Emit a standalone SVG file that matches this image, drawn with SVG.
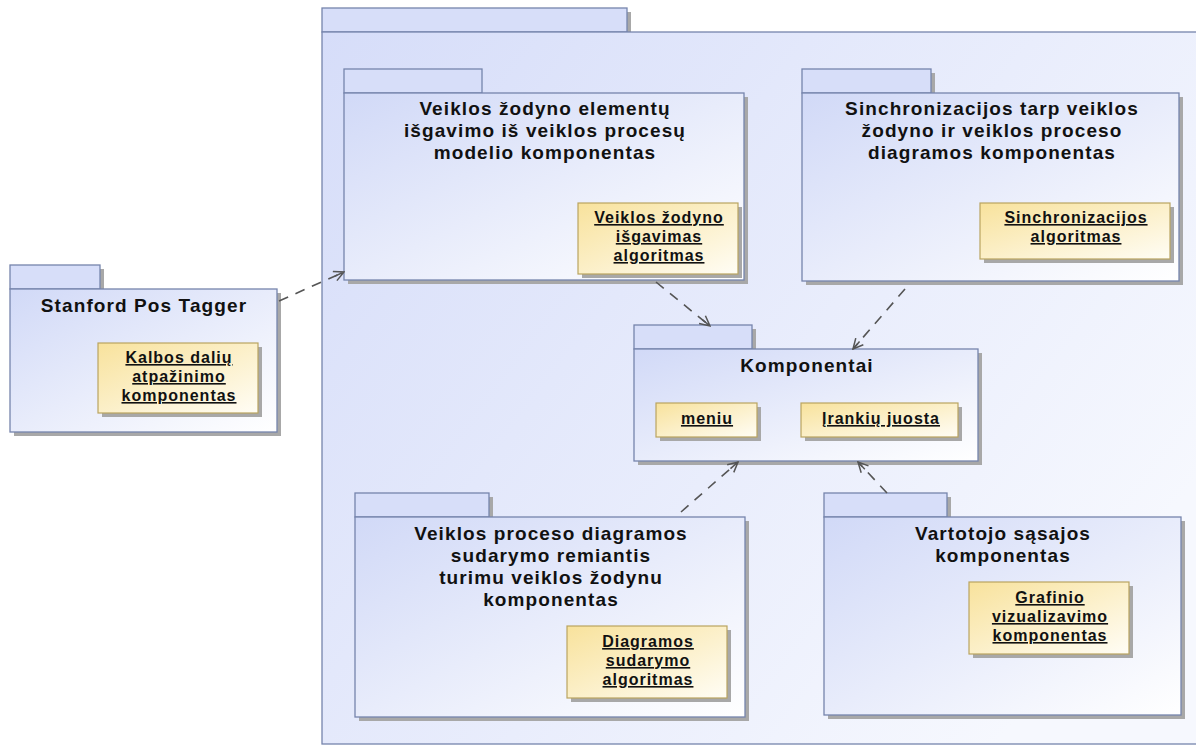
<svg xmlns="http://www.w3.org/2000/svg" width="1196" height="745" viewBox="0 0 1196 745">
  <defs>
    <linearGradient id="pkgFill" x1="0" y1="0" x2="1" y2="1">
      <stop offset="0" stop-color="#d1d9f7"/>
      <stop offset="1" stop-color="#ffffff"/>
    </linearGradient>
    <linearGradient id="pkgFillWide" x1="0" y1="0" x2="1" y2="0.6">
      <stop offset="0" stop-color="#d6ddf9"/>
      <stop offset="1" stop-color="#f6f8fe"/>
    </linearGradient>
    <linearGradient id="partFill" x1="0" y1="0" x2="1" y2="1">
      <stop offset="0" stop-color="#f8e29c"/>
      <stop offset="1" stop-color="#fffdf5"/>
    </linearGradient>
    <marker id="open" viewBox="0 0 12 12" refX="11" refY="6" markerWidth="12" markerHeight="12" markerUnits="userSpaceOnUse" orient="auto">
      <path d="M1,1 L11,6 L1,11 M11,6 L1,6" fill="none" stroke="#555" stroke-width="1.5"/>
    </marker>
  </defs>
  <style>
    .shadow { fill: #a8a8a8; }
    .tab { fill: #d7def9; stroke: #7684ac; stroke-width: 1.3; }
    .body { fill: url(#pkgFill); stroke: #7684ac; stroke-width: 1.3; }
    .outer { fill: url(#pkgFillWide); stroke: #7684ac; stroke-width: 1.3; }
    .part { fill: url(#partFill); stroke: #b9a460; stroke-width: 1.2; }
    .title { font-family: "Liberation Sans", Arial, sans-serif; font-weight: bold; font-size: 19px; letter-spacing: 1.1px; fill: #111; text-anchor: middle; }
    .label { font-family: "Liberation Sans", Arial, sans-serif; font-weight: bold; font-size: 16px; letter-spacing: 1px; fill: #111; text-anchor: middle; text-decoration: underline; }
    .dep { fill: none; stroke: #555; stroke-width: 1.6; stroke-dasharray: 10 8; }
  </style>

  <!-- enclosing package -->
  <g id="system">
    <rect class="shadow" x="326" y="12" width="305" height="24"/>
    <rect class="tab" x="322" y="8" width="305" height="24"/>
    <rect class="outer" x="322" y="32" width="890" height="712"/>
  </g>

  <!-- Stanford Pos Tagger -->
  <g id="stanford">
    <rect class="shadow" x="14" y="269" width="90" height="24"/>
    <rect class="tab" x="10" y="265" width="90" height="24"/>
    <rect class="shadow" x="14" y="293" width="267" height="143"/>
    <rect class="body" x="10" y="289" width="267" height="143"/>
    <text class="title" x="144" y="312">Stanford Pos Tagger</text>
    <rect class="shadow" x="102" y="347" width="160" height="70"/>
    <rect class="part" x="98" y="343" width="160" height="70"/>
    <text class="label" x="179" y="363">Kalbos dalių</text>
    <text class="label" x="179" y="382">atpažinimo</text>
    <text class="label" x="179" y="401">komponentas</text>
  </g>

  <!-- extraction component -->
  <g id="extraction">
    <rect class="shadow" x="348" y="73" width="134" height="24"/>
    <rect class="tab" x="344" y="69" width="138" height="24"/>
    <rect class="shadow" x="348" y="97" width="400" height="187"/>
    <rect class="body" x="344" y="93" width="400" height="187"/>
    <text class="title" x="545" y="115">Veiklos žodyno elementų</text>
    <text class="title" x="545" y="137">išgavimo iš veiklos procesų</text>
    <text class="title" x="545" y="159">modelio komponentas</text>
    <rect class="shadow" x="582" y="207" width="160" height="71"/>
    <rect class="part" x="578" y="203" width="160" height="71"/>
    <text class="label" x="659" y="223">Veiklos žodyno</text>
    <text class="label" x="659" y="242">išgavimas</text>
    <text class="label" x="659" y="261">algoritmas</text>
  </g>

  <!-- synchronisation component -->
  <g id="sync">
    <rect class="shadow" x="806" y="73" width="129" height="24"/>
    <rect class="tab" x="802" y="69" width="129" height="24"/>
    <rect class="shadow" x="806" y="97" width="377" height="188"/>
    <rect class="body" x="802" y="93" width="377" height="188"/>
    <text class="title" x="992" y="115">Sinchronizacijos tarp veiklos</text>
    <text class="title" x="992" y="137">žodyno ir veiklos proceso</text>
    <text class="title" x="992" y="159">diagramos komponentas</text>
    <rect class="shadow" x="984" y="207" width="190" height="56"/>
    <rect class="part" x="980" y="203" width="190" height="56"/>
    <text class="label" x="1076" y="223">Sinchronizacijos</text>
    <text class="label" x="1076" y="242">algoritmas</text>
  </g>

  <!-- shared components -->
  <g id="components">
    <rect class="shadow" x="638" y="329" width="118" height="24"/>
    <rect class="tab" x="634" y="325" width="118" height="24"/>
    <rect class="shadow" x="638" y="353" width="344" height="112"/>
    <rect class="body" x="634" y="349" width="344" height="112"/>
    <text class="title" x="807" y="372">Komponentai</text>
    <rect class="shadow" x="660" y="407" width="101" height="34"/>
    <rect class="part" x="656" y="403" width="101" height="34"/>
    <text class="label" x="707" y="424">meniu</text>
    <rect class="shadow" x="805" y="407" width="157" height="34"/>
    <rect class="part" x="801" y="403" width="157" height="34"/>
    <text class="label" x="881" y="424">Įrankių juosta</text>
  </g>

  <!-- diagram building component -->
  <g id="builder">
    <rect class="shadow" x="359" y="497" width="134" height="24"/>
    <rect class="tab" x="355" y="493" width="134" height="24"/>
    <rect class="shadow" x="359" y="521" width="390" height="200"/>
    <rect class="body" x="355" y="517" width="390" height="200"/>
    <text class="title" x="551" y="540">Veiklos proceso diagramos</text>
    <text class="title" x="551" y="562">sudarymo remiantis</text>
    <text class="title" x="551" y="584">turimu veiklos žodynu</text>
    <text class="title" x="551" y="606">komponentas</text>
    <rect class="shadow" x="571" y="630" width="160" height="72"/>
    <rect class="part" x="567" y="626" width="160" height="72"/>
    <text class="label" x="648" y="647">Diagramos</text>
    <text class="label" x="648" y="666">sudarymo</text>
    <text class="label" x="648" y="685">algoritmas</text>
  </g>

  <!-- user interface component -->
  <g id="ui">
    <rect class="shadow" x="828" y="497" width="123" height="24"/>
    <rect class="tab" x="824" y="493" width="123" height="24"/>
    <rect class="shadow" x="828" y="521" width="357" height="198"/>
    <rect class="body" x="824" y="517" width="357" height="198"/>
    <text class="title" x="1003" y="540">Vartotojo sąsajos</text>
    <text class="title" x="1003" y="562">komponentas</text>
    <rect class="shadow" x="973" y="586" width="160" height="72"/>
    <rect class="part" x="969" y="582" width="160" height="72"/>
    <text class="label" x="1050" y="603">Grafinio</text>
    <text class="label" x="1050" y="622">vizualizavimo</text>
    <text class="label" x="1050" y="641">komponentas</text>
  </g>

  <!-- dependencies -->
  <g id="connectors">
    <line class="dep" x1="279" y1="301" x2="344" y2="272" marker-end="url(#open)"/>
    <line class="dep" x1="656" y1="282" x2="710" y2="326" marker-end="url(#open)"/>
    <line class="dep" x1="905" y1="289" x2="853" y2="349" marker-end="url(#open)"/>
    <line class="dep" x1="681" y1="512" x2="738" y2="462" marker-end="url(#open)"/>
    <line class="dep" x1="887" y1="493" x2="858" y2="462" marker-end="url(#open)"/>
  </g>
</svg>
